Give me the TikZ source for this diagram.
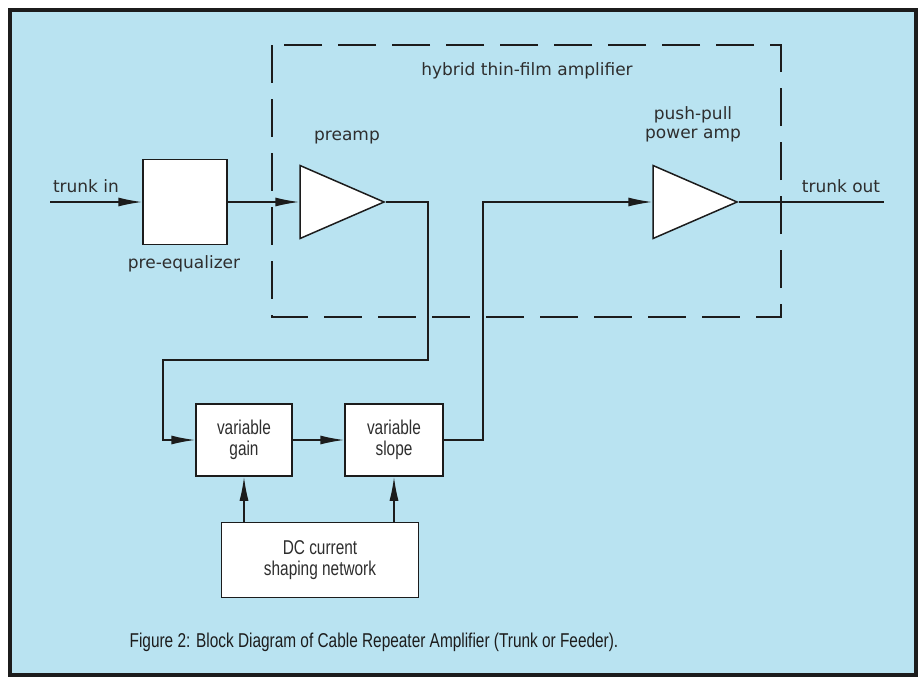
\documentclass[tikz,border=0pt]{standalone}
\usepackage{fontspec}
\setmainfont{DejaVu Sans}
\newfontfamily\condfont[FakeStretch=0.77]{Liberation Sans}
\usepackage{tikz}
\usetikzlibrary{arrows.meta,positioning,shapes.geometric}
\definecolor{sky}{HTML}{B9E3F1}
\definecolor{ink}{HTML}{1C1C1C}
\definecolor{ink2}{HTML}{2E2E2E}
\tikzset{
  box/.style={draw=ink,fill=white,line width=1.5pt,inner sep=0pt,align=center,font=\condfont\fontsize{20}{21}\selectfont,text=ink2},
  amp/.style={draw=ink,fill=white,line width=1.5pt,isosceles triangle,isosceles triangle stretches,inner sep=0pt,minimum width=73pt,minimum height=84pt},
  lab/.style={font=\fontsize{17}{19}\selectfont,text=ink2,align=center,inner sep=0pt},
  arr/.style={-{Latex[length=24pt,width=9pt]},draw=ink,line width=1.5pt},
  wire/.style={draw=ink,line width=1.5pt},
}

\begin{document}
\begin{tikzpicture}[x=1pt,y=-1pt]
  \useasboundingbox (0,0) rectangle (924,678);
  \draw[ink,line width=4.5pt,fill=sky] (10,10) rectangle (916,675);
  \draw[ink,line width=1.5pt,dash pattern=on 38pt off 16pt] (272,45) rectangle (781,317);
  \node[lab,anchor=base] (hyblab) at (527,75) {hybrid thin-film amplifier};
  \coordinate (in) at (50,202);
  \coordinate (out) at (884,202);
  \node[box,minimum width=84pt,minimum height=85pt] (peq) at (185,202) {};
  \node[amp,anchor=apex] (pre) at (386,202) {};
  \node[amp,anchor=apex] (pwr) at (739,202) {};
  \node[box,minimum width=96pt,minimum height=72pt] (gain) at (244,440) {variable\\gain};
  \node[box,minimum width=98pt,minimum height=72pt] (slope) at (394,440) {variable\\slope};
  \node[box,minimum width=197pt,minimum height=75pt] (dc) at (320,560) {DC current\\shaping network};
  \coordinate (bendA) at (428,360);
  \coordinate (bendB) at (163,360);
  \node[lab,anchor=base] (inlab) at (86,192) {trunk in};
  \node[lab,anchor=base] (outlab) at (841,192) {trunk out};
  \node[lab,anchor=base] (peqlab) at (184,268) {pre-equalizer};
  \node[lab,anchor=base] (prelab) at (347,140) {preamp};
  \node[lab] (pwrlab) at (693,124) {push-pull\\power amp};
  \draw[arr] (in) -- (peq.west);
  \draw[arr] (peq.east) -- (pre.west);
  \draw[arr] (pre.apex) -| (bendA) -- (bendB) |- (gain.west);
  \draw[arr] (gain) -- (slope);
  \draw[arr] (slope.east) -- ++(39,0) |- (pwr.west);
  \draw[wire] (pwr.apex) -- (out);
  \draw[arr] (dc.north -| gain) -- (gain.south);
  \draw[arr] (dc.north -| slope) -- (slope.south);
  \node[font=\condfont\fontsize{20}{21}\selectfont,text=ink,anchor=base] (cap) at (374,647) {Figure 2: Block Diagram of Cable Repeater Amplifier (Trunk or Feeder).};
\end{tikzpicture}
\end{document}
